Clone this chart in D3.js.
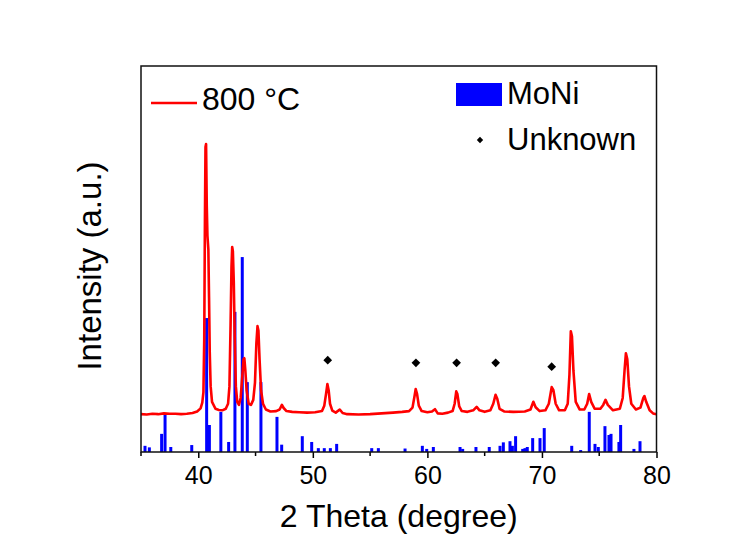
<!DOCTYPE html>
<html>
<head>
<meta charset="utf-8">
<script src="https://cdn.jsdelivr.net/npm/d3@7"></script>
<style>
  body { margin: 0; background: #fff; }
  text { font-family: "Liberation Sans", Arial, sans-serif; fill: #000; }
</style>
</head>
<body>
<svg width="748" height="535"></svg>
<script>
// measured scan, 800 °C (2θ, counts a.u.)
var scanTheta = [35.0, 35.5, 36.0, 36.5, 37.0, 37.5, 38.0, 38.5, 39.0, 39.5, 39.9, 40.2, 40.35, 40.45, 40.52, 40.58, 40.63, 40.68, 40.74, 40.8, 40.88, 40.94, 41.0, 41.08, 41.2, 41.5, 41.8, 42.1, 42.4, 42.6, 42.72, 42.82, 42.9, 42.96, 43.02, 43.1, 43.18, 43.28, 43.4, 43.55, 43.7, 43.85, 43.95, 44.02, 44.1, 44.22, 44.4, 44.6, 44.8, 44.95, 45.07, 45.17, 45.25, 45.35, 45.48, 45.65, 45.9, 46.3, 46.8, 47.1, 47.3, 47.45, 47.7, 48.2, 48.8, 49.5, 50.2, 50.8, 51.0, 51.15, 51.27, 51.38, 51.5, 51.7, 52.0, 52.35, 52.6, 53.0, 54.0, 55.0, 56.0, 57.0, 57.8, 58.4, 58.7, 58.88, 58.98, 59.1, 59.25, 59.5, 60.0, 60.4, 60.66, 60.9, 61.3, 61.8, 62.2, 62.38, 62.52, 62.62, 62.78, 63.0, 63.5, 64.0, 64.3, 64.55, 65.0, 65.5, 65.75, 65.95, 66.1, 66.3, 66.7, 67.5, 68.5, 69.0, 69.25, 69.45, 69.8, 70.3, 70.6, 70.85, 71.0, 71.2, 71.5, 72.0, 72.25, 72.4, 72.52, 72.62, 72.75, 72.95, 73.3, 73.7, 73.95, 74.12, 74.3, 74.6, 75.1, 75.35, 75.55, 75.75, 76.2, 76.8, 77.05, 77.22, 77.33, 77.45, 77.6, 77.8, 78.2, 78.6, 78.85, 78.95, 79.1, 79.4, 79.7, 80.0];
var scanCounts = [98, 97, 99, 98, 100, 99, 99, 98, 99, 101, 105, 113, 128, 155, 290, 600, 790, 798, 640, 560, 525, 400, 260, 170, 130, 112, 109, 108, 112, 125, 170, 330, 480, 531, 520, 440, 300, 170, 130, 122, 140, 200, 240, 243, 215, 160, 125, 122, 135, 180, 280, 326, 315, 240, 160, 125, 110, 105, 106, 110, 122, 114, 106, 104, 103, 102, 103, 106, 120, 150, 176, 160, 125, 107, 102, 110, 101, 98, 97, 98, 100, 102, 104, 106, 115, 145, 163, 150, 120, 106, 103, 105, 111, 100, 99, 102, 106, 125, 157, 150, 118, 106, 104, 108, 117, 108, 104, 108, 125, 148, 138, 112, 105, 104, 105, 110, 130, 116, 106, 108, 125, 168, 160, 125, 108, 108, 125, 200, 313, 300, 210, 130, 110, 110, 125, 150, 130, 112, 112, 122, 135, 122, 108, 112, 140, 215, 256, 240, 170, 125, 110, 115, 140, 145, 130, 108, 100, 98];

// MoNi reference lines
var refTheta = [35.35, 35.73, 36.8, 37.1, 37.6, 39.43, 40.73, 40.97, 41.97, 42.65, 43.2, 43.84, 44.28, 45.47, 46.87, 47.28, 49.08, 49.9, 50.48, 51.0, 51.53, 52.08, 55.14, 55.72, 58.05, 59.56, 59.94, 60.52, 62.85, 63.08, 64.24, 65.4, 66.34, 66.63, 67.21, 67.42, 67.7, 68.32, 68.52, 68.72, 69.19, 69.83, 70.2, 72.6, 73.38, 74.13, 74.63, 74.92, 75.5, 75.85, 76.03, 76.72, 76.87, 78.03, 78.56];
var refCounts = [16, 12, 47, 96, 13, 18, 347, 70, 104, 26, 363, 505, 181, 181, 91, 19, 41, 26, 10, 10, 10, 21, 10, 10, 9, 16, 8, 13, 13, 8, 13, 13, 16, 25, 28, 16, 41, 8, 10, 13, 36, 36, 62, 16, 5, 104, 21, 13, 67, 44, 47, 26, 70, 8, 28];

// unknown phase markers
var unknownTheta = [51.3, 59.0, 62.55, 65.96, 70.85];
var unknownCounts = [238, 231, 231, 231, 221];

var majorTicks = [40, 50, 60, 70, 80];
var minorTicks = [35, 45, 55, 65, 75];

var svg = d3.select("svg");
var plotLeft = 141, plotRight = 656.5, plotTop = 66, plotBottom = 452;

var x = d3.scaleLinear().domain([35, 80]).range([plotLeft, plotRight]);
var y = d3.scaleLinear().domain([0, 1000]).range([plotBottom, plotTop]);

svg.append("rect").attr("width", 748).attr("height", 535).attr("fill", "#fff");

// reference bars
svg.append("g").selectAll("line")
  .data(refTheta)
  .enter()
  .append("line")
    .attr("x1", d => x(d))
    .attr("x2", d => x(d))
    .attr("y1", y(0))
    .attr("y2", (d, i) => y(refCounts[i]))
    .attr("stroke", "#0000ff")
    .attr("stroke-width", 3);

// scan
var line = d3.line()
  .x(d => x(d[0]))
  .y(d => y(d[1]));

svg.append("path")
  .datum(d3.zip(scanTheta, scanCounts))
  .attr("d", line)
  .attr("fill", "none")
  .attr("stroke", "#ff0000")
  .attr("stroke-width", 2.6)
  .attr("stroke-linejoin", "round");

// diamonds
var diamond = d3.symbol().type(d3.symbolSquare).size(38);
svg.append("g").selectAll("path")
  .data(unknownTheta)
  .enter()
  .append("path")
    .attr("d", diamond)
    .attr("transform", (d, i) => "translate(" + x(d) + "," + y(unknownCounts[i]) + ") rotate(45)")
    .attr("fill", "#000");

// axis
var xAxis = svg.append("g")
  .attr("transform", "translate(0," + plotBottom + ")")
  .call(d3.axisBottom(x).tickValues(majorTicks).tickSize(6).tickFormat(d3.format("d")));
xAxis.select(".domain").remove();
xAxis.selectAll("line").attr("stroke", "#000").attr("stroke-width", 1.5);
xAxis.selectAll("text")
  .attr("y", 14)
  .attr("font-size", 25)
  .attr("font-family", "Liberation Sans, Arial, sans-serif")
  .attr("fill", "#000");

svg.append("g").selectAll("line")
  .data(minorTicks)
  .enter()
  .append("line")
    .attr("x1", d => x(d)).attr("x2", d => x(d))
    .attr("y1", plotBottom).attr("y2", plotBottom + 4)
    .attr("stroke", "#000").attr("stroke-width", 1.5);

// frame
svg.append("rect")
  .attr("x", plotLeft).attr("y", plotTop)
  .attr("width", plotRight - plotLeft).attr("height", plotBottom - plotTop)
  .attr("fill", "none")
  .attr("stroke", "#111")
  .attr("stroke-width", 1.5);

// titles
svg.append("text")
  .attr("x", (plotLeft + plotRight) / 2)
  .attr("y", 527)
  .attr("text-anchor", "middle")
  .attr("font-size", 32)
  .text("2 Theta (degree)");

svg.append("text")
  .attr("transform", "translate(101,266) rotate(-90)")
  .attr("text-anchor", "middle")
  .attr("font-size", 33)
  .text("Intensity (a.u.)");

// legend
svg.append("line")
  .attr("x1", 151).attr("x2", 197)
  .attr("y1", 103).attr("y2", 103)
  .attr("stroke", "#ff0000").attr("stroke-width", 2.6);
svg.append("text")
  .attr("x", 202).attr("y", 110)
  .attr("font-size", 32)
  .text("800 °C");

svg.append("rect")
  .attr("x", 456).attr("y", 83)
  .attr("width", 46).attr("height", 23)
  .attr("fill", "#0000ff");
svg.append("text")
  .attr("x", 507).attr("y", 104)
  .attr("font-size", 31)
  .text("MoNi");

svg.append("path")
  .attr("d", d3.symbol().type(d3.symbolSquare).size(20))
  .attr("transform", "translate(480,140) rotate(45)")
  .attr("fill", "#000");
svg.append("text")
  .attr("x", 507).attr("y", 150)
  .attr("font-size", 31)
  .text("Unknown");
</script>
</body>
</html>
